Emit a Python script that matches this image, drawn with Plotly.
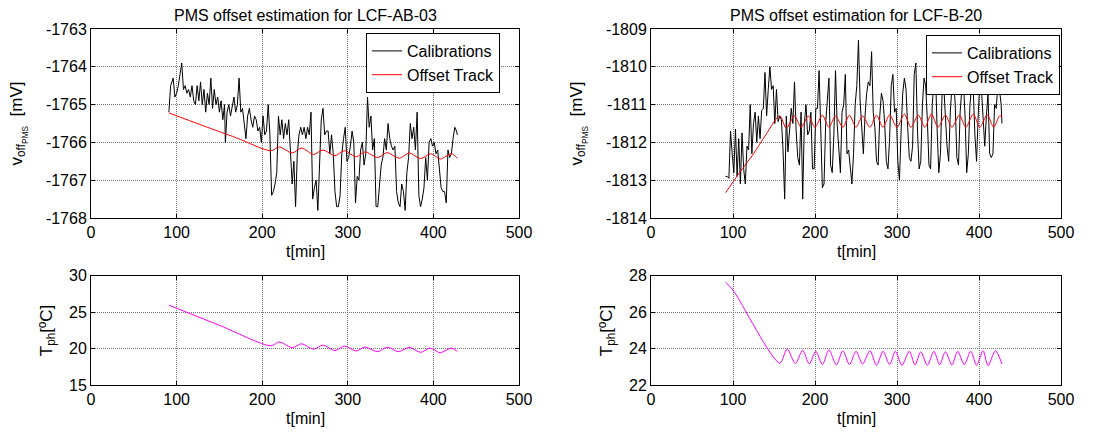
import plotly.graph_objects as go

# ---------------- data: left (LCF-AB-03) ----------------
t_cal_a = [91, 93, 96, 98, 100, 102, 104, 106, 108, 110,
           112, 114, 116, 118, 120, 122, 124, 126, 128, 130,
           132, 134, 136, 138, 140, 142, 144, 146, 148, 150,
           152, 154, 156, 157, 159, 161, 163, 165, 167, 169,
           171, 173, 175, 177, 179, 181, 183, 185, 187, 189,
           191, 193, 195, 197, 199, 201, 203, 205, 207, 209,
           211, 213, 215, 217, 219, 221, 223, 225, 227, 229,
           231, 233, 235, 237, 239, 241, 243, 245, 247, 249,
           251, 253, 255, 257, 259, 261, 263, 265, 267, 269,
           271, 273, 275, 277, 279, 281, 283, 285, 287, 289,
           291, 293, 295, 297, 299, 301, 303, 305, 307, 309,
           311, 313, 315, 317, 319, 321, 323, 325, 327, 329,
           331, 333, 335, 337, 339, 341, 343, 345, 347, 349,
           351, 353, 355, 357, 359, 361, 363, 365, 367, 369,
           371, 373, 375, 377, 379, 381, 383, 385, 387, 389,
           391, 393, 395, 397, 399, 401, 403, 405, 407, 409,
           411, 413, 415, 417, 419, 421, 423, 425, 427, 428]
v_cal_a = [-1765.2, -1764.5, -1764.3, -1764.8, -1764.7, -1764.5, -1764.2, -1763.9, -1764.6, -1764.5,
           -1764.7, -1764.6, -1764.8, -1764.5, -1764.9, -1765.0, -1764.5, -1764.9, -1764.4, -1765.0,
           -1764.6, -1765.2, -1764.7, -1765.0, -1764.3, -1765.1, -1764.6, -1765.0, -1764.8, -1765.2,
           -1764.9, -1765.4, -1765.0, -1766.0, -1765.2, -1765.0, -1765.3, -1765.0, -1764.8, -1765.2,
           -1765.0, -1764.3, -1765.2, -1765.1, -1765.5, -1765.9, -1765.3, -1765.1, -1765.4, -1765.6,
           -1765.3, -1765.4, -1765.7, -1765.6, -1766.0, -1765.3, -1765.8, -1765.7, -1765.0, -1765.8,
           -1767.4, -1767.3, -1767.1, -1766.8, -1765.3, -1765.8, -1765.4, -1765.9, -1765.5, -1765.8,
           -1765.4, -1766.3, -1767.1, -1766.5, -1767.7, -1766.3, -1765.8, -1765.6, -1765.8, -1765.6,
           -1765.9, -1765.6, -1765.8, -1765.2, -1767.5, -1767.2, -1767.0, -1767.8, -1766.6, -1765.4,
           -1765.1, -1765.8, -1765.7, -1765.7, -1766.3, -1765.8, -1766.3, -1767.3, -1767.7, -1767.7,
           -1767.4, -1766.3, -1765.9, -1765.6, -1766.5, -1766.4, -1766.1, -1765.7, -1766.0, -1767.6,
           -1766.9, -1767.0, -1766.2, -1766.0, -1766.6, -1766.3, -1764.8, -1765.6, -1765.3, -1766.2,
           -1765.9, -1767.7, -1767.7, -1767.0, -1766.6, -1766.4, -1765.9, -1766.2, -1765.5, -1765.9,
           -1766.1, -1766.2, -1766.1, -1767.3, -1767.6, -1767.7, -1767.1, -1767.3, -1767.8, -1766.8,
           -1766.4, -1765.5, -1765.9, -1765.6, -1766.2, -1765.2, -1767.4, -1767.7, -1767.5, -1767.2,
           -1766.4, -1767.0, -1766.0, -1765.9, -1766.1, -1766.0, -1766.3, -1766.2, -1766.7, -1767.2,
           -1767.3, -1767.3, -1767.6, -1766.2, -1766.4, -1766.3, -1765.9, -1765.6, -1765.7, -1765.8]

t_track_a = [91, 130, 170, 210, 220, 235, 246, 260, 271, 285, 296, 310, 320, 335, 346, 360,
             372, 385, 397, 408, 421, 428]
v_track_a = [-1765.22, -1765.55, -1765.88, -1766.22, -1766.12, -1766.28, -1766.15, -1766.32,
             -1766.2, -1766.35, -1766.22, -1766.38, -1766.25, -1766.4, -1766.27, -1766.42,
             -1766.28, -1766.43, -1766.3, -1766.44, -1766.3, -1766.42]

t_temp_a = [91, 150, 210, 220, 235, 246, 260, 271, 285, 296, 310, 320, 335, 346, 359, 372,
            385, 396, 408, 421, 428]
v_temp_a = [25.94, 23.18, 20.38, 20.9, 20.1, 20.65, 19.9, 20.47, 19.7, 20.33, 19.65, 20.2,
            19.56, 20.2, 19.56, 20.15, 19.47, 20.06, 19.42, 20.06, 19.6]

# ---------------- data: right (LCF-B-20) ----------------
t_cal_b = [91, 93, 95, 97, 99, 101, 103, 105, 107, 109,
           111, 113, 115, 117, 119, 121, 123, 125, 127, 129,
           131, 133, 135, 137, 139, 141, 143, 145, 147, 149,
           151, 153, 155, 157, 159, 161, 163, 165, 167, 169,
           171, 173, 175, 177, 179, 181, 183, 185, 187, 189,
           191, 193, 195, 197, 199, 201, 203, 205, 207, 209,
           211, 213, 215, 217, 219, 221, 223, 225, 227, 229,
           231, 233, 235, 237, 239, 241, 243, 245, 247, 249,
           251, 253, 255, 257, 259, 261, 263, 265, 267, 269,
           271, 273, 275, 277, 279, 281, 283, 285, 287, 289,
           291, 293, 295, 297, 299, 301, 303, 305, 307, 309,
           311, 313, 315, 317, 319, 321, 323, 325, 327, 329,
           331, 333, 335, 337, 339, 341, 343, 345, 347, 349,
           351, 353, 355, 357, 359, 361, 363, 365, 367, 369,
           371, 373, 375, 377, 379, 381, 383, 385, 387, 389,
           391, 393, 395, 397, 399, 401, 403, 405, 407, 409,
           411, 413, 415, 417, 419, 421, 423, 425, 427, 428]
v_cal_b = [-1812.9, -1812.9, -1812.95, -1811.7, -1812.3, -1812.8, -1811.65, -1812.9, -1811.9, -1813.1,
           -1811.75, -1812.7, -1813.1, -1812.1, -1812.2, -1811.0, -1812.3, -1811.5, -1811.2, -1812.0,
           -1811.3, -1811.9, -1811.15, -1811.1, -1810.15, -1811.3, -1810.6, -1810.0, -1810.6, -1810.5,
           -1811.5, -1810.6, -1811.45, -1811.3, -1811.4, -1812.2, -1813.5, -1811.3, -1812.25, -1811.7,
           -1811.1, -1811.5, -1810.4, -1811.7, -1812.4, -1812.6, -1811.2, -1813.5, -1811.5, -1811.0,
           -1811.8, -1811.7, -1811.2, -1812.7, -1812.7, -1811.1, -1811.1, -1810.1, -1811.9, -1813.2,
           -1813.1, -1811.5, -1810.9, -1810.3, -1812.6, -1812.8, -1811.8, -1810.1, -1811.5, -1812.3,
           -1812.8, -1811.2, -1811.0, -1810.2, -1812.3, -1812.2, -1812.7, -1813.1, -1812.3, -1811.0,
           -1810.5, -1809.3, -1810.9, -1811.5, -1812.3, -1811.3, -1810.7, -1810.4, -1810.5, -1809.6,
           -1811.2, -1811.6, -1812.5, -1812.6, -1811.3, -1810.7, -1810.9, -1811.5, -1812.5, -1812.7,
           -1811.9, -1810.5, -1810.2, -1811.2, -1811.1, -1812.5, -1813.0, -1811.7, -1810.7, -1810.3,
           -1810.6, -1811.6, -1812.4, -1812.5, -1812.1, -1810.2, -1809.9, -1811.7, -1812.7, -1812.5,
           -1811.0, -1810.3, -1810.5, -1811.4, -1812.6, -1812.7, -1811.0, -1810.4, -1810.2, -1811.7,
           -1812.8, -1812.3, -1810.7, -1810.5, -1811.4, -1812.1, -1812.5, -1811.2, -1810.5, -1810.3,
           -1811.0, -1812.4, -1812.6, -1811.2, -1810.6, -1810.4, -1811.3, -1812.8, -1812.3, -1811.0,
           -1810.5, -1810.6, -1811.8, -1812.5, -1811.3, -1810.4, -1810.6, -1811.4, -1812.1, -1811.3,
           -1810.7, -1812.3, -1812.4, -1812.3, -1811.0, -1811.1, -1810.5, -1810.6, -1811.0, -1811.5]

t_track_b = [91, 108, 125, 140, 157, 165, 175, 183, 192, 200, 209, 217, 225, 234, 242, 250,
             258, 267, 275, 283, 291, 300, 309, 317, 326, 334, 342, 350, 359, 367, 376, 384,
             393, 401, 410, 418, 425, 428]
v_track_b = [-1813.33, -1812.8, -1812.3, -1811.8, -1811.3, -1811.62, -1811.3, -1811.6, -1811.3,
             -1811.6, -1811.28, -1811.6, -1811.3, -1811.6, -1811.28, -1811.6, -1811.3, -1811.6,
             -1811.28, -1811.6, -1811.27, -1811.6, -1811.25, -1811.6, -1811.28, -1811.6,
             -1811.25, -1811.6, -1811.28, -1811.6, -1811.28, -1811.6, -1811.25, -1811.6,
             -1811.27, -1811.6, -1811.3, -1811.32]

t_temp_b = [91, 100, 157, 166, 176, 185, 193, 201, 209, 217, 226, 234, 242, 250, 258, 267, 275,
            283, 291, 298, 306, 315, 322, 329, 337, 345, 352, 359, 367, 374, 382, 390, 397,
            405, 411, 420, 428]
v_temp_b = [27.63, 27.2, 23.2, 23.98, 23.18, 23.9, 23.15, 23.85, 23.12, 23.92, 23.1, 23.88,
            23.12, 23.85, 23.15, 23.88, 23.08, 23.85, 23.12, 23.85, 23.08, 23.85, 23.1, 23.82,
            23.08, 23.85, 23.12, 23.82, 23.1, 23.85, 23.12, 23.85, 23.08, 23.88, 23.06, 23.88,
            23.15]

# ---------------- ticks ----------------
x_ticks = [0, 100, 200, 300, 400, 500]
y_ticks_a = [-1768, -1767, -1766, -1765, -1764, -1763]
y_ticks_b = [-1814, -1813, -1812, -1811, -1810, -1809]
temp_ticks_a = [15, 20, 25, 30]
temp_ticks_b = [22, 24, 26, 28]

titles = ["PMS offset estimation for LCF-AB-03", "PMS offset estimation for LCF-B-20"]

W, H = 1116, 432
OFF = 8  # page body margin: positions below are given in window pixels
FONT = "Liberation Sans, Arial, sans-serif"
FS = 16

def fx(p):
    return (p - OFF) / W

def fy(p):
    return 1 - (p - OFF) / H

dom_xl = [fx(91), fx(519)]
dom_xr = [fx(651), fx(1061)]
dom_yt = [fy(218), fy(29)]
dom_yb = [fy(385), fy(275.5)]

fig = go.Figure()
fig.add_trace(go.Scatter(x=t_cal_a, y=v_cal_a, mode="lines", name="Calibrations",
                         line=dict(color="black", width=1), xaxis="x", yaxis="y", legend="legend"))
fig.add_trace(go.Scatter(x=t_track_a, y=v_track_a, mode="lines", name="Offset Track",
                         line=dict(color="red", width=1, shape="spline", smoothing=0.8),
                         xaxis="x", yaxis="y", legend="legend"))
fig.add_trace(go.Scatter(x=t_cal_b, y=v_cal_b, mode="lines", name="Calibrations",
                         line=dict(color="black", width=1), xaxis="x2", yaxis="y2", legend="legend2"))
fig.add_trace(go.Scatter(x=t_track_b, y=v_track_b, mode="lines", name="Offset Track",
                         line=dict(color="red", width=1, shape="spline", smoothing=0.8),
                         xaxis="x2", yaxis="y2", legend="legend2"))
fig.add_trace(go.Scatter(x=t_temp_a, y=v_temp_a, mode="lines", showlegend=False,
                         line=dict(color="#ff00ff", width=1, shape="spline", smoothing=0.8),
                         xaxis="x3", yaxis="y3"))
fig.add_trace(go.Scatter(x=t_temp_b, y=v_temp_b, mode="lines", showlegend=False,
                         line=dict(color="#ff00ff", width=1, shape="spline", smoothing=0.8),
                         xaxis="x4", yaxis="y4"))

common = dict(showline=True, linecolor="black", linewidth=1, mirror="allticks",
              ticks="inside", ticklen=4, tickcolor="black", automargin=False,
              showgrid=True, gridcolor="#7a7a7a", griddash="1px,1px", gridwidth=1,
              zeroline=False, tickfont=dict(family=FONT, size=FS, color="black"))

def xax(dom, anchor):
    return dict(common, domain=dom, anchor=anchor, range=[0, 500],
                tickvals=x_ticks, ticktext=[str(v) for v in x_ticks])

def yax(dom, anchor, rng, ticks):
    return dict(common, domain=dom, anchor=anchor, range=rng,
                tickvals=ticks, ticktext=[str(v) for v in ticks])

legend_common = dict(bgcolor="white", bordercolor="black", borderwidth=1,
                     font=dict(family=FONT, size=FS, color="black"),
                     xanchor="right", yanchor="top", tracegroupgap=0,
                     entrywidth=96, entrywidthmode="pixels")

annotations = []
for dom_x, txt in zip([dom_xl, dom_xr], titles):
    annotations.append(dict(text=txt, x=(dom_x[0] + dom_x[1]) / 2, y=fy(5),
                            xref="paper", yref="paper", xanchor="center", yanchor="top",
                            showarrow=False, font=dict(family=FONT, size=16, color="black")))
for dom_x in [dom_xl, dom_xr]:
    annotations.append(dict(text="t[min]", x=(dom_x[0] + dom_x[1]) / 2, y=fy(252),
                            xref="paper", yref="paper", xanchor="center", yanchor="middle",
                            showarrow=False, font=dict(family=FONT, size=FS, color="black")))
    annotations.append(dict(text="t[min]", x=(dom_x[0] + dom_x[1]) / 2, y=fy(418),
                            xref="paper", yref="paper", xanchor="center", yanchor="middle",
                            showarrow=False, font=dict(family=FONT, size=FS, color="black")))
for xp in [18, 578]:
    annotations.append(dict(text="v<sub>off<sub>PMS</sub></sub>  [mV]", x=fx(xp),
                            y=(dom_yt[0] + dom_yt[1]) / 2, xref="paper", yref="paper",
                            xanchor="center", yanchor="middle", textangle=-90, showarrow=False,
                            font=dict(family=FONT, size=FS + 1, color="black")))
for xp in [48, 608]:
    annotations.append(dict(text="T<sub>ph</sub>[ºC]", x=fx(xp),
                            y=(dom_yb[0] + dom_yb[1]) / 2, xref="paper", yref="paper",
                            xanchor="center", yanchor="middle", textangle=-90, showarrow=False,
                            font=dict(family=FONT, size=FS + 1, color="black")))

fig.update_layout(
    width=W, height=H, margin=dict(l=0, r=0, t=0, b=0, pad=0, autoexpand=False),
    paper_bgcolor="white", plot_bgcolor="white",
    font=dict(family=FONT, size=FS, color="black"),
    xaxis=xax(dom_xl, "y"), yaxis=yax(dom_yt, "x", [-1768, -1763], y_ticks_a),
    xaxis2=xax(dom_xr, "y2"), yaxis2=yax(dom_yt, "x2", [-1814, -1809], y_ticks_b),
    xaxis3=xax(dom_xl, "y3"), yaxis3=yax(dom_yb, "x3", [15, 30], temp_ticks_a),
    xaxis4=xax(dom_xr, "y4"), yaxis4=yax(dom_yb, "x4", [22, 28], temp_ticks_b),
    legend=dict(legend_common, x=fx(500), y=fy(33)),
    legend2=dict(legend_common, x=fx(1060), y=fy(35)),
    annotations=annotations,
    showlegend=True,
)

fig.write_html("out.html")
